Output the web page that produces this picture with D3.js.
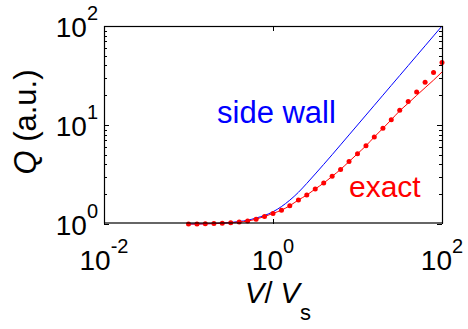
<!DOCTYPE html>
<html>
<head>
<meta charset="utf-8">
<script src="https://cdn.jsdelivr.net/npm/d3@7"></script>
<style>
  body { margin: 0; background: #fff; }
  text { font-family: "Liberation Sans", Arial, sans-serif; }
</style>
</head>
<body>
<div id="chart"></div>
<script>
// V / Vs sample points (0.1 decade steps)
const vRatio = [0.1, 0.126, 0.158, 0.2, 0.251, 0.316, 0.398, 0.501, 0.631, 0.794,
  1, 1.26, 1.58, 2, 2.51, 3.16, 3.98, 5.01, 6.31, 7.94,
  10, 12.6, 15.8, 20, 25.1, 31.6, 39.8, 50.1, 63.1, 79.4, 100];

// side wall model (blue line)
const sideWall = [1.0, 1.0, 1.005, 1.01, 1.02, 1.035, 1.06, 1.09, 1.15, 1.22,
  1.33, 1.50, 1.74, 2.09, 2.57, 3.2, 4.0, 5.01, 6.31, 7.94,
  10.0, 12.6, 15.8, 20.0, 25.1, 31.6, 39.8, 50.1, 63.1, 79.4, 100];

// exact model (red line)
const exactLine = [1.0, 1.0, 1.005, 1.01, 1.02, 1.03, 1.045, 1.07, 1.12, 1.19,
  1.28, 1.38, 1.53, 1.75, 1.96, 2.26, 2.59, 3.03, 3.56, 4.27,
  5.13, 6.17, 7.57, 9.25, 11.3, 13.9, 16.6, 19.9, 23.8, 28.4, 34.3];

// exact data points (red dots)
const exactDots = [1.0, 1.0, 1.005, 1.01, 1.02, 1.03, 1.045, 1.07, 1.12, 1.19,
  1.28, 1.38, 1.53, 1.75, 1.96, 2.26, 2.59, 3.03, 3.56, 4.27,
  5.13, 6.17, 7.57, 9.25, 11.3, 14.1, 17.3, 21.5, 27.0, 34.0, 42.7];

const xTicks = [0.01, 1, 100];
const xTickExp = ["-2", "0", "2"];
const yTicks = [1, 10, 100];
const yTickExp = ["0", "1", "2"];

const W = 468, H = 329;
const margin = { top: 26, right: 26, bottom: 105, left: 104 };
const width = W - margin.left - margin.right;
const height = H - margin.top - margin.bottom;

const svg = d3.select('#chart').append('svg')
  .attr('width', W)
  .attr('height', H);

const g = svg.append('g')
  .attr('transform', `translate(${margin.left},${margin.top})`);

const x = d3.scaleLog().domain([0.01, 100]).range([0, width]);
const y = d3.scaleLog().domain([1, 100]).range([height, 0]);

// y ticks, majors and minors, inward on both sides
const yAll = y.ticks();
const isMajor = v => Math.abs(Math.log10(v) - Math.round(Math.log10(v))) < 1e-9;
g.append('g')
  .selectAll('line')
  .data(yAll)
  .join('line')
  .attr('x1', 0)
  .attr('x2', d => isMajor(d) ? 5 : 3)
  .attr('y1', d => Math.round(y(d)) + 0.5)
  .attr('y2', d => Math.round(y(d)) + 0.5)
  .attr('stroke', '#000');
g.append('g')
  .selectAll('line')
  .data(yAll)
  .join('line')
  .attr('x1', width)
  .attr('x2', d => width - (isMajor(d) ? 5 : 3))
  .attr('y1', d => Math.round(y(d)) + 0.5)
  .attr('y2', d => Math.round(y(d)) + 0.5)
  .attr('stroke', '#000');

// x major ticks, bottom and top
[height, 0].forEach(yy => {
  g.append('g')
    .selectAll('line')
    .data(xTicks)
    .join('line')
    .attr('x1', d => Math.round(x(d)) + 0.5)
    .attr('x2', d => Math.round(x(d)) + 0.5)
    .attr('y1', yy)
    .attr('y2', yy === 0 ? 5 : height - 5)
    .attr('stroke', '#000');
});

// lines
const line = d3.line()
  .x((d, i) => x(vRatio[i]))
  .y(d => y(d))
  .curve(d3.curveMonotoneX);

g.append('path')
  .datum(sideWall)
  .attr('d', line)
  .attr('fill', 'none')
  .attr('stroke', '#0000ff')
  .attr('stroke-width', 1);

g.append('path')
  .datum(exactLine)
  .attr('d', line)
  .attr('fill', 'none')
  .attr('stroke', '#ff0000')
  .attr('stroke-width', 1);

g.append('g')
  .selectAll('circle')
  .data(exactDots)
  .join('circle')
  .attr('cx', (d, i) => x(vRatio[i]))
  .attr('cy', d => y(d))
  .attr('r', 2.5)
  .attr('fill', '#ff0000');

// frame
g.append('rect')
  .attr('x', 0.5)
  .attr('y', 0.5)
  .attr('width', width)
  .attr('height', height - 1.5)
  .attr('fill', 'none')
  .attr('stroke', '#000')
  .attr('stroke-width', 1.2);

// tick labels
const xLab = g.append('g').selectAll('text')
  .data(xTicks)
  .join('text')
  .attr('x', d => x(d))
  .attr('y', height + 46)
  .attr('text-anchor', 'middle')
  .attr('font-size', 28);
xLab.append('tspan').text('10');
xLab.append('tspan')
  .attr('dy', -17)
  .attr('font-size', 20)
  .text((d, i) => xTickExp[i]);

const yLab = g.append('g').selectAll('text')
  .data(yTicks)
  .join('text')
  .attr('x', -6)
  .attr('y', d => y(d) + 11)
  .attr('text-anchor', 'end')
  .attr('font-size', 28);
yLab.append('tspan').text('10');
yLab.append('tspan')
  .attr('dy', -17)
  .attr('font-size', 20)
  .text((d, i) => yTickExp[i]);

// axis titles
const xTitle = svg.append('text')
  .attr('x', 278)
  .attr('y', 303)
  .attr('text-anchor', 'middle')
  .attr('font-size', 29);
xTitle.append('tspan').attr('font-style', 'italic').text('V');
xTitle.append('tspan').text('/ ');
xTitle.append('tspan').attr('font-style', 'italic').text('V');
xTitle.append('tspan').attr('dy', 17).attr('font-size', 22).text('s');

svg.append('text')
  .attr('transform', 'translate(36,122) rotate(-90)')
  .attr('text-anchor', 'middle')
  .attr('font-size', 31)
  .html('<tspan font-style="italic">Q</tspan> (a.u.)');

// annotations
svg.append('text')
  .attr('x', 217)
  .attr('y', 123)
  .attr('font-size', 31)
  .attr('fill', '#0000ff')
  .text('side wall');

svg.append('text')
  .attr('x', 349)
  .attr('y', 197)
  .attr('font-size', 30)
  .attr('fill', '#ff0000')
  .text('exact');
</script>
</body>
</html>
